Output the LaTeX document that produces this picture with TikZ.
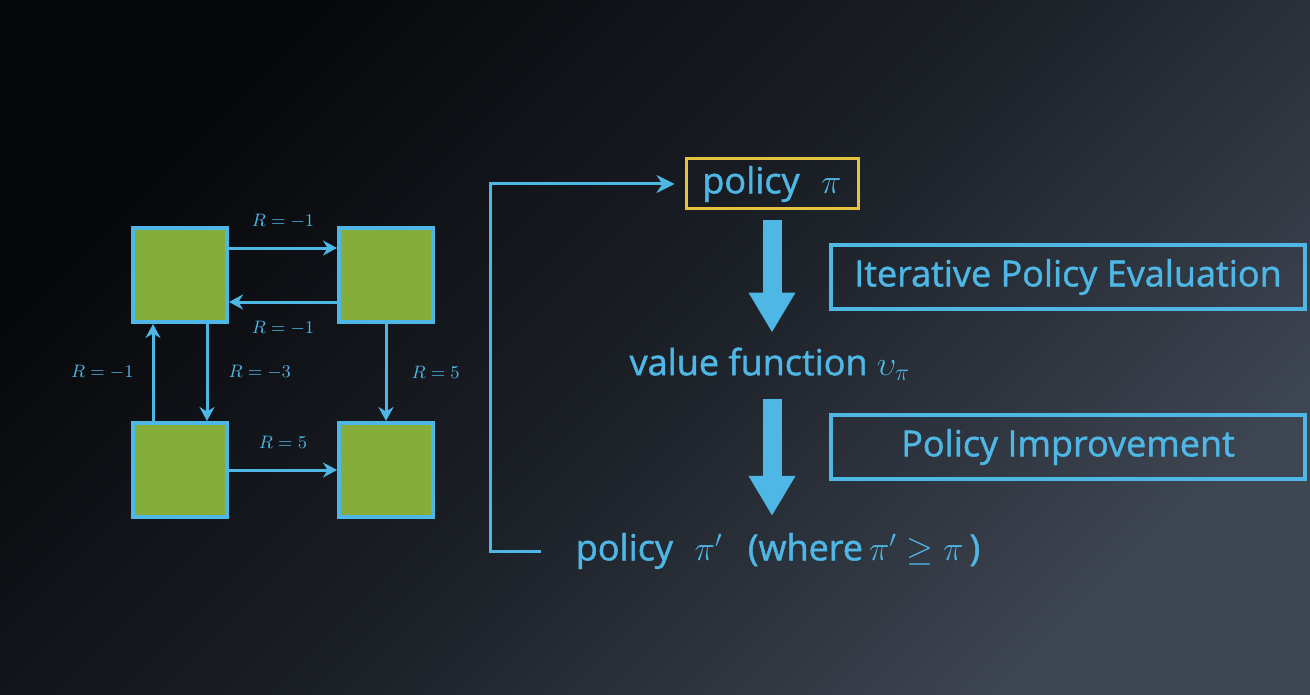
\documentclass[tikz,border=0pt]{standalone}
\usepackage[no-math]{fontspec}
\setmainfont{Open Sans}
\newfontfamily\slidefont{Open Sans}[FakeBold=1.3]
\usepackage{tikz}
\usetikzlibrary{arrows.meta}

\definecolor{sky}{RGB}{78,183,229}
\definecolor{grass}{RGB}{133,173,59}
\definecolor{gold}{RGB}{228,196,62}
\definecolor{bgdark}{RGB}{6,7,10}
\definecolor{bgmid}{RGB}{27,31,38}
\definecolor{bglight}{RGB}{62,70,82}

\begin{document}
\begin{tikzpicture}[x=0.5pt, y=-0.5pt, >=Stealth,
	square/.style={draw=sky, fill=grass, line width=2pt, minimum size=47pt, inner sep=0pt},
	move/.style={->, line width=1.5pt, draw=sky, >={Stealth[length=7pt, width=7.5pt]}},
	reward/.style={text=sky, inner sep=0pt, font=\fontsize{9}{11}\selectfont},
	polbox/.style={draw=gold, line width=1.5pt, text=sky, minimum width=86pt, minimum height=25pt, font=\slidefont\fontsize{18}{21}\selectfont},
	stagebox/.style={draw=sky, line width=2pt, text=sky, minimum width=237pt, minimum height=32pt, font=\slidefont\fontsize{18}{21}\selectfont},
	stage/.style={text=sky, font=\slidefont\fontsize{18}{21}\selectfont},
	bigarrow/.style={-{Triangle[length=20pt, width=22pt]}, line width=9.5pt, draw=sky},
	loopline/.style={->, line width=1.5pt, draw=sky, >={Stealth[length=9pt, width=9pt]}}]

	% background
	\shade[left color=bgdark, right color=bglight, middle color=bgmid, shading angle=45] (0,0) rectangle (1310,695);
	\useasboundingbox (0,0) rectangle (1310,695);

	% states
	\node[square] (s1) at (180,275) {};
	\node[square] (s2) at (386,275) {};
	\node[square] (s3) at (180,470) {};
	\node[square] (s4) at (386,470) {};

	% transitions
	\draw[move] ([yshift=13.5pt]s1.east) -- node[reward, above=9pt] {$R=-1$} ([yshift=13.5pt]s2.west);
	\draw[move] ([yshift=-13.5pt]s2.west) -- node[reward, below=9pt] {$R=-1$} ([yshift=-13.5pt]s1.east);
	\draw[move] ([xshift=-13.5pt]s3.north) -- node[reward, left=9pt] {$R=-1$} ([xshift=-13.5pt]s1.south);
	\draw[move] ([xshift=13.5pt]s1.south) -- node[reward, right=10pt] {$R=-3$} ([xshift=13.5pt]s3.north);
	\draw[move] (s2.south) -- node[reward, right=12pt] {$R=5$} (s4.north);
	\draw[move] (s3.east) -- node[reward, above=10pt] {$R=5$} (s4.west);

	% policy iteration
	\node[polbox] (pol) at (772,184) {policy\hspace{0.6em}$\pi$};
	\node[stage] (val) at (770,364) {value function $\upsilon_\pi$};
	\node[stage] (pol2) at (778,551) {policy\hspace{0.6em}$\pi'$\hspace{0.7em}(where\,$\pi' \geq \pi$\,)};
	\node[stagebox] (eval) at (1068,277) {Iterative Policy Evaluation};
	\node[stagebox] (impr) at (1068,447) {Policy Improvement};

	\draw[bigarrow, shorten <=5pt, shorten >=4pt] (pol.south) -- (pol.south |- val.north);
	\draw[bigarrow, shorten <=6pt, shorten >=5pt] (pol.south |- val.south) -- (pol.south |- pol2.north);

	% back to the start
	\coordinate (back) at (490,184);
	\draw[loopline, shorten <=14pt, shorten >=5pt] (pol2.west) -| (back) -- (pol.west);
\end{tikzpicture}
\end{document}
